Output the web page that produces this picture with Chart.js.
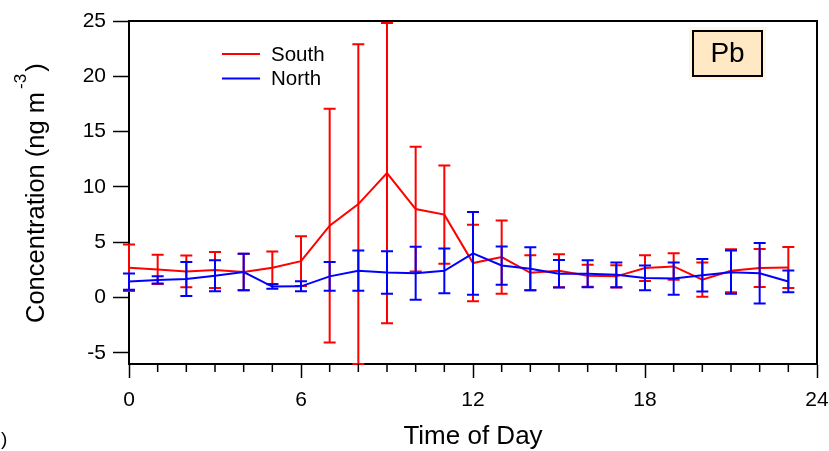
<!DOCTYPE html>
<html>
<head>
<meta charset="utf-8">
<script src="https://cdn.jsdelivr.net/npm/chart.js@4.4.0/dist/chart.umd.min.js"></script>
<style>
  html, body { margin: 0; padding: 0; background: #ffffff; }
  #wrap { width: 829px; height: 451px; position: relative; }
</style>
</head>
<body>
<div id="wrap"><canvas id="c" width="829" height="451"></canvas></div>
<script>
// ---- data ----
const hours = [0,1,2,3,4,5,6,7,8,9,10,11,12,13,14,15,16,17,18,19,20,21,22,23];
const southMean = [2.7, 2.55, 2.37, 2.5, 2.31, 2.7, 3.3, 6.5, 8.45, 11.25, 8.0, 7.5, 3.12, 3.66, 2.24, 2.43, 1.98, 1.92, 2.67, 2.82, 1.62, 2.43, 2.67, 2.73];
const southErr  = [2.1, 1.32, 1.44, 1.63, 1.65, 1.47, 2.25, 10.56, 14.45, 13.57, 5.63, 4.43, 3.46, 3.3, 1.58, 1.5, 1.0, 1.0, 1.16, 1.2, 1.55, 1.94, 1.72, 1.85];
const northMean = [1.45, 1.6, 1.68, 1.98, 2.31, 1.0, 1.02, 1.92, 2.43, 2.28, 2.2, 2.42, 4.0, 2.9, 2.61, 2.16, 2.16, 2.06, 1.78, 1.72, 2.03, 2.3, 2.2, 1.46];
const northErr  = [0.74, 0.33, 1.53, 1.4, 1.65, 0.2, 0.45, 1.29, 1.82, 1.92, 2.39, 2.03, 3.73, 1.73, 1.95, 1.25, 1.22, 1.12, 1.12, 1.45, 1.47, 1.96, 2.73, 0.98];
const xTicks = [0, 6, 12, 18, 24];
const yTicks = [-5, 0, 5, 10, 15, 20, 25];
const seriesNames = ['South', 'North'];
const seriesColors = ['#ff0000', '#0000ff'];
const xTitle = 'Time of Day';
const yTitle = 'Concentration (ng m';
const yTitleSup = '-3';
const panelLabel = 'Pb';

const FONT = "'Liberation Sans', Arial, sans-serif";

const pts = (xs, ys) => xs.map((x, i) => ({ x: x, y: ys[i] }));

const errorBars = {
  id: 'errorBars',
  afterDatasetDraw(chart, args) {
    const ds = chart.data.datasets[args.index];
    if (!ds.errors) return;
    const ctx = chart.ctx, xs = chart.scales.x, ys = chart.scales.y, a = chart.chartArea;
    ctx.save();
    ctx.beginPath();
    ctx.rect(a.left - 8, a.top - 1, a.right - a.left + 16, a.bottom - a.top + 2);
    ctx.clip();
    ctx.strokeStyle = ds.borderColor;
    ctx.lineWidth = 2;
    ds.data.forEach((p, i) => {
      const e = ds.errors[i];
      const px = xs.getPixelForValue(p.x);
      let top = ys.getPixelForValue(p.y + e);
      let bot = ys.getPixelForValue(p.y - e);
      top = Math.max(top, a.top); bot = Math.min(bot, a.bottom);
      ctx.beginPath();
      ctx.moveTo(px, top); ctx.lineTo(px, bot);
      ctx.moveTo(px - 6, top); ctx.lineTo(px + 6, top);
      ctx.moveTo(px - 6, bot); ctx.lineTo(px + 6, bot);
      ctx.stroke();
    });
    ctx.restore();
  }
};

const decorations = {
  id: 'decorations',
  afterDraw(chart) {
    const ctx = chart.ctx, a = chart.chartArea, xs = chart.scales.x;
    ctx.save();
    // frame (top and right)
    ctx.strokeStyle = '#000'; ctx.lineWidth = 2;
    ctx.beginPath();
    ctx.moveTo(a.left, a.top); ctx.lineTo(a.right, a.top); ctx.lineTo(a.right, a.bottom);
    ctx.stroke();
    // minor x ticks
    ctx.lineWidth = 1.5;
    for (let h = 0; h <= 24; h++) {
      if (h % 6 === 0) continue;
      const px = xs.getPixelForValue(h);
      ctx.beginPath(); ctx.moveTo(px, a.bottom); ctx.lineTo(px, a.bottom + 8); ctx.stroke();
    }
    // x title
    ctx.fillStyle = '#000';
    ctx.font = '26px ' + FONT;
    ctx.textAlign = 'center'; ctx.textBaseline = 'middle';
    ctx.fillText(xTitle, 473, 437);
    // y title
    ctx.save();
    ctx.translate(44, 323);
    ctx.rotate(-Math.PI / 2);
    ctx.textAlign = 'left'; ctx.textBaseline = 'alphabetic';
    ctx.font = '25.5px ' + FONT;
    ctx.fillText(yTitle, 0, 0);
    const w = ctx.measureText(yTitle).width;
    ctx.font = '17px ' + FONT;
    ctx.fillText(yTitleSup, w + 3, -18);
    const w2 = ctx.measureText(yTitleSup).width;
    ctx.font = '25.5px ' + FONT;
    ctx.fillText(')', w + 3 + w2 + 2, 0);
    ctx.restore();
    // legend
    ctx.font = '20.5px ' + FONT;
    ctx.textAlign = 'left'; ctx.textBaseline = 'middle';
    chart.data.datasets.forEach((ds, i) => {
      const y = 54 + i * 24.5;
      ctx.strokeStyle = ds.borderColor; ctx.lineWidth = 2;
      ctx.beginPath(); ctx.moveTo(222, y); ctx.lineTo(260, y); ctx.stroke();
      ctx.fillStyle = '#000';
      ctx.fillText(ds.label, 271, y + 1);
    });
    // panel label box
    ctx.fillStyle = '#fff6e6';
    ctx.fillRect(689, 27, 77, 53);
    ctx.fillStyle = '#ffe8c4';
    ctx.fillRect(693, 31, 69, 45);
    ctx.strokeStyle = '#000'; ctx.lineWidth = 2;
    ctx.strokeRect(693, 31, 69, 45);
    ctx.fillStyle = '#000';
    ctx.font = '28px ' + FONT;
    ctx.textAlign = 'center'; ctx.textBaseline = 'middle';
    ctx.fillText(panelLabel, 727.5, 54);
    // stray parenthesis at bottom-left
    ctx.font = '19px ' + FONT;
    ctx.textAlign = 'left';
    ctx.fillText(')', 1, 440);
    ctx.restore();
  }
};

new Chart(document.getElementById('c'), {
  type: 'line',
  data: {
    datasets: [
      { label: seriesNames[0], data: pts(hours, southMean), errors: southErr, borderColor: seriesColors[0], backgroundColor: seriesColors[0], borderWidth: 2, pointRadius: 0, tension: 0, fill: false, order: 2 },
      { label: seriesNames[1], data: pts(hours, northMean), errors: northErr, borderColor: seriesColors[1], backgroundColor: seriesColors[1], borderWidth: 2, pointRadius: 0, tension: 0, fill: false, order: 1 }
    ]
  },
  options: {
    responsive: false,
    animation: false,
    events: [],
    layout: { padding: { left: 0, right: 12, top: 21, bottom: 0 } },
    plugins: { legend: { display: false }, tooltip: { enabled: false }, title: { display: false } },
    scales: {
      x: {
        type: 'linear', min: 0, max: 24,
        afterBuildTicks: s => { s.ticks = xTicks.map(v => ({ value: v })); },
        afterFit: s => { s.height = 87; s.paddingLeft = 0; s.paddingRight = 0; },
        grid: { drawOnChartArea: false, drawTicks: true, tickLength: 14, tickColor: '#000', tickWidth: 1.5 },
        border: { display: true, color: '#000', width: 2 },
        ticks: { color: '#000', font: { family: FONT, size: 21 }, padding: 10, maxRotation: 0, autoSkip: false }
      },
      y: {
        type: 'linear', min: -6, max: 25,
        afterBuildTicks: s => { s.ticks = yTicks.map(v => ({ value: v })); },
        afterFit: s => { s.width = 129; s.paddingTop = 0; s.paddingBottom = 0; },
        grid: { drawOnChartArea: false, drawTicks: true, tickLength: 16, tickColor: '#000', tickWidth: 1.5 },
        border: { display: true, color: '#000', width: 2 },
        ticks: { color: '#000', font: { family: FONT, size: 21 }, padding: 7 }
      }
    }
  },
  plugins: [errorBars, decorations]
});
</script>
</body>
</html>
